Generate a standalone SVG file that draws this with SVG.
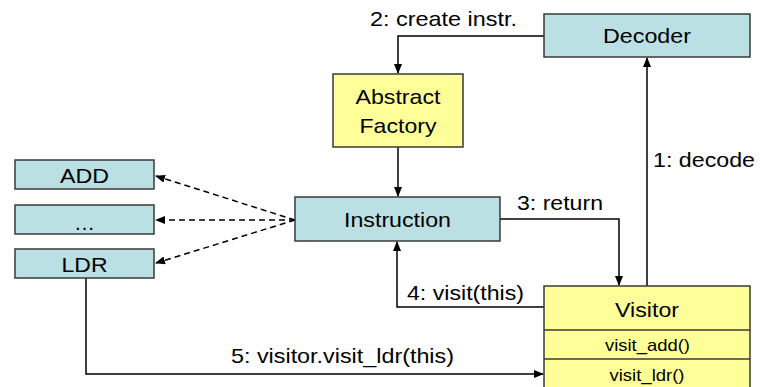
<svg xmlns="http://www.w3.org/2000/svg" width="760" height="387" viewBox="0 0 760 387">
  <style>
    .teal { fill: #BBE0E3; stroke: #3A3A3A; stroke-width: 1.5; }
    .yellow { fill: #FFFF99; stroke: #3A3A3A; stroke-width: 1.5; }
    .div { stroke: #3A3A3A; stroke-width: 1.5; fill: none; }
    .lbl { font-family: "Liberation Sans", Arial, sans-serif; font-size: 21px; fill: #000; }
    .mid { text-anchor: middle; }
    .small { font-size: 16.5px; }
    .edge { fill: none; stroke: #000; stroke-width: 1.5; }
    .dash { stroke-dasharray: 6 4; }
  </style>
  <defs>
    <marker id="arrow" markerWidth="10" markerHeight="8" refX="9" refY="4" orient="auto" markerUnits="userSpaceOnUse">
      <path d="M0,0 L10,4 L0,8 Z" fill="#000"/>
    </marker>
  </defs>

  <rect width="760" height="387" fill="#fff"/>

  <!-- connectors -->
  <g id="connectors">
    <polyline class="edge" points="544,36 398,36 398,73" marker-end="url(#arrow)"/>
    <line class="edge" x1="398" y1="147" x2="398" y2="196" marker-end="url(#arrow)"/>
    <polyline class="edge" points="500,219 619,219 619,285" marker-end="url(#arrow)"/>
    <polyline class="edge" points="544,307 397,307 397,242" marker-end="url(#arrow)"/>
    <line class="edge" x1="647" y1="286" x2="647" y2="58" marker-end="url(#arrow)"/>
    <polyline class="edge" points="86,278 86,374 543,374" marker-end="url(#arrow)"/>
    <line class="edge dash" x1="295" y1="220" x2="156" y2="176" marker-end="url(#arrow)"/>
    <line class="edge dash" x1="295" y1="220" x2="156" y2="220" marker-end="url(#arrow)"/>
    <line class="edge dash" x1="295" y1="220" x2="156" y2="263" marker-end="url(#arrow)"/>

    <text class="lbl" x="370" y="26" textLength="147" lengthAdjust="spacingAndGlyphs">2: create instr.</text>
    <text class="lbl" x="653" y="167" textLength="102" lengthAdjust="spacingAndGlyphs">1: decode</text>
    <text class="lbl" x="517" y="210" textLength="86" lengthAdjust="spacingAndGlyphs">3: return</text>
    <text class="lbl" x="407" y="300" textLength="117" lengthAdjust="spacingAndGlyphs">4: visit(this)</text>
    <text class="lbl" x="231" y="363" textLength="223" lengthAdjust="spacingAndGlyphs">5: visitor.visit_ldr(this)</text>
  </g>

  <g id="decoder">
    <rect class="teal" x="544" y="14" width="206" height="43"/>
    <text class="lbl" x="603" y="43" textLength="88" lengthAdjust="spacingAndGlyphs">Decoder</text>
  </g>

  <g id="abstract-factory">
    <rect class="yellow" x="333" y="74" width="130" height="73"/>
    <text class="lbl" x="355.5" y="104" textLength="85" lengthAdjust="spacingAndGlyphs">Abstract</text>
    <text class="lbl" x="359.5" y="133" textLength="77" lengthAdjust="spacingAndGlyphs">Factory</text>
  </g>

  <g id="instruction">
    <rect class="teal" x="295" y="197" width="205" height="44"/>
    <text class="lbl" x="344" y="227" textLength="107" lengthAdjust="spacingAndGlyphs">Instruction</text>
  </g>

  <g id="add">
    <rect class="teal" x="15" y="160" width="139" height="29"/>
    <text class="lbl" x="60" y="183" textLength="49" lengthAdjust="spacingAndGlyphs">ADD</text>
  </g>

  <g id="ellipsis">
    <rect class="teal" x="15" y="205" width="139" height="29"/>
    <text class="lbl mid" x="84.5" y="230">…</text>
  </g>

  <g id="ldr">
    <rect class="teal" x="15" y="249" width="139" height="29"/>
    <text class="lbl" x="61.5" y="272" textLength="46" lengthAdjust="spacingAndGlyphs">LDR</text>
  </g>

  <g id="visitor">
    <rect class="yellow" x="544" y="286" width="206" height="106"/>
    <line class="div" x1="544" y1="330" x2="750" y2="330"/>
    <line class="div" x1="544" y1="359" x2="750" y2="359"/>
    <text class="lbl" x="615" y="317" textLength="64" lengthAdjust="spacingAndGlyphs">Visitor</text>
    <text class="lbl small" x="605" y="351" textLength="85" lengthAdjust="spacingAndGlyphs">visit_add()</text>
    <text class="lbl small" x="609.5" y="381" textLength="75" lengthAdjust="spacingAndGlyphs">visit_ldr()</text>
  </g>
</svg>
